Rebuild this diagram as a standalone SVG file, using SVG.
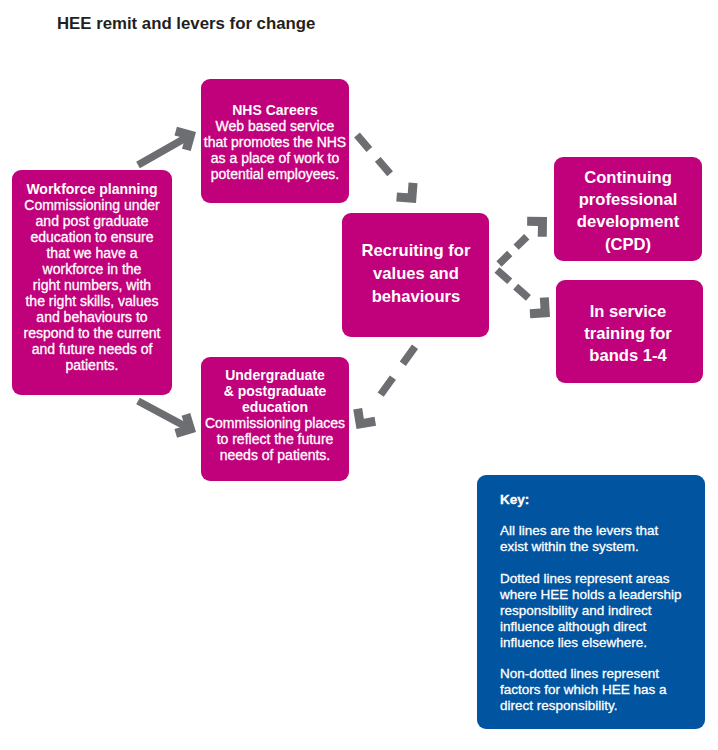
<svg xmlns="http://www.w3.org/2000/svg" xmlns:xlink="http://www.w3.org/1999/xlink" width="718" height="750" viewBox="0 0 718 750">
<style>
.box{fill:#C1007B}
.key{fill:#0054A0}
text{font-family:"Liberation Sans",Arial,sans-serif;fill:#ffffff}
.t{font-size:14px;text-anchor:middle;stroke:#ffffff;stroke-width:0.3}
.b{font-weight:bold;stroke:none}
.big{font-size:16.6px;font-weight:bold;text-anchor:middle}
.k{font-size:13.5px;stroke:#ffffff;stroke-width:0.3}
.title{font-size:16.8px;font-weight:bold;fill:#231F20}
.ln{stroke:#6D6E71;stroke-width:7.5;fill:none}
.head{fill:#6D6E71}
</style>
<defs>
<path id="hd" class="head" d="M0,0 L-14,-14 L-20.4,-7.6 L-12.7,0 L-20.4,7.6 L-14,14 Z"/>
</defs>
<rect width="718" height="750" fill="#ffffff"/>
<text class="title" x="57" y="28.5">HEE remit and levers for change</text>

<g id="connectors">
<line class="ln" x1="138" y1="165" x2="190.8" y2="135"/>
<use xlink:href="#hd" transform="translate(196,132) rotate(-29.6)"/>
<line class="ln" x1="138" y1="401" x2="190.7" y2="429.2"/>
<use xlink:href="#hd" transform="translate(196,432) rotate(28.1)"/>
<line class="ln" x1="357" y1="135" x2="390.1" y2="173.8" stroke-dasharray="19 13"/>
<use xlink:href="#hd" transform="translate(416,203) rotate(49.5)"/>
<line class="ln" x1="499" y1="264" x2="526.8" y2="236.7" stroke-dasharray="15 9"/>
<use xlink:href="#hd" transform="translate(547,217) rotate(-44.4)"/>
<line class="ln" x1="497" y1="270" x2="528.4" y2="297.9" stroke-dasharray="17 8"/>
<use xlink:href="#hd" transform="translate(550,317) rotate(41.6)"/>
<line class="ln" x1="415" y1="346.7" x2="380.1" y2="395.5" stroke-dasharray="21 17"/>
<use xlink:href="#hd" transform="translate(356.5,429) rotate(125.5)"/>
</g>

<g id="workforce">
<rect class="box" x="12" y="170" width="160" height="225" rx="9"/>
<text class="t b" x="92" y="194">Workforce planning</text>
<text class="t" x="92" y="210">Commissioning under</text>
<text class="t" x="92" y="226">and post graduate</text>
<text class="t" x="92" y="242">education to ensure</text>
<text class="t" x="92" y="258">that we have a</text>
<text class="t" x="92" y="274">workforce in the</text>
<text class="t" x="92" y="290">right numbers, with</text>
<text class="t" x="92" y="306">the right skills, values</text>
<text class="t" x="92" y="322">and behaviours to</text>
<text class="t" x="92" y="338">respond to the current</text>
<text class="t" x="92" y="354">and future needs of</text>
<text class="t" x="92" y="370">patients.</text>
</g>

<g id="nhscareers">
<rect class="box" x="201" y="79" width="148" height="124" rx="9"/>
<text class="t b" x="275" y="115">NHS Careers</text>
<text class="t" x="275" y="131">Web based service</text>
<text class="t" x="275" y="147">that promotes the NHS</text>
<text class="t" x="275" y="163">as a place of work to</text>
<text class="t" x="275" y="179">potential employees.</text>
</g>

<g id="recruiting">
<rect class="box" x="342" y="213" width="147" height="124" rx="9"/>
<text class="big" x="416" y="256">Recruiting for</text>
<text class="big" x="416" y="279">values and</text>
<text class="big" x="416" y="302">behaviours</text>
</g>

<g id="cpd">
<rect class="box" x="554" y="157" width="148" height="104" rx="9"/>
<text class="big" x="628" y="182.5">Continuing</text>
<text class="big" x="628" y="205">professional</text>
<text class="big" x="628" y="227">development</text>
<text class="big" x="628" y="249.5">(CPD)</text>
</g>

<g id="inservice">
<rect class="box" x="556" y="280" width="147" height="103" rx="9"/>
<text class="big" x="628" y="316.5">In service</text>
<text class="big" x="628" y="338.5">training for</text>
<text class="big" x="628" y="360.5">bands 1-4</text>
</g>

<g id="undergrad">
<rect class="box" x="201" y="357" width="148" height="124" rx="9"/>
<text class="t b" x="275" y="379.5">Undergraduate</text>
<text class="t b" x="275" y="395.5">&amp; postgraduate</text>
<text class="t b" x="275" y="411.5">education</text>
<text class="t" x="275" y="428">Commissioning places</text>
<text class="t" x="275" y="444">to reflect the future</text>
<text class="t" x="275" y="460">needs of patients.</text>
</g>

<g id="keybox">
<rect class="key" x="477" y="475" width="228" height="254" rx="9"/>
<text class="k b" x="500" y="504">Key:</text>
<text class="k" x="500" y="535">All lines are the levers that</text>
<text class="k" x="500" y="551">exist within the system.</text>
<text class="k" x="500" y="583">Dotted lines represent areas</text>
<text class="k" x="500" y="599">where HEE holds a leadership</text>
<text class="k" x="500" y="614.5">responsibility and indirect</text>
<text class="k" x="500" y="630.5">influence although direct</text>
<text class="k" x="500" y="646.5">influence lies elsewhere.</text>
<text class="k" x="500" y="678">Non-dotted lines represent</text>
<text class="k" x="500" y="694">factors for which HEE has a</text>
<text class="k" x="500" y="710">direct responsibility.</text>
</g>
</svg>
